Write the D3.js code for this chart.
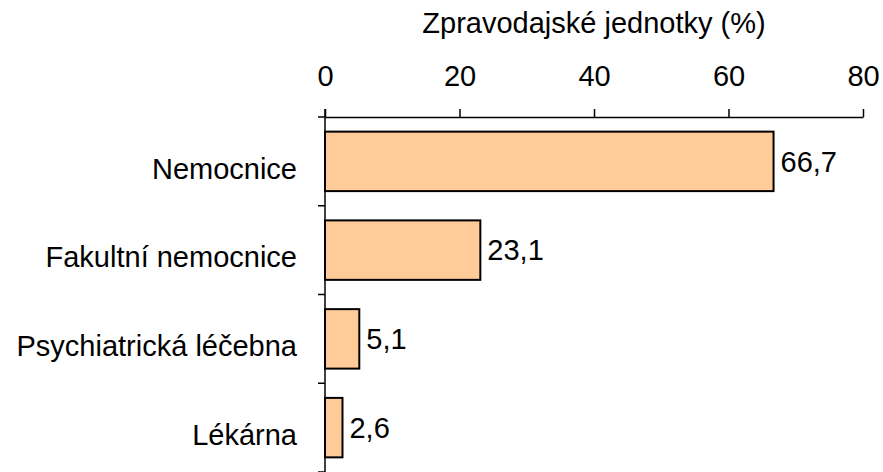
<!DOCTYPE html>
<html>
<head>
<meta charset="utf-8">
<script src="https://cdn.jsdelivr.net/npm/d3@7/dist/d3.min.js"></script>
<style>
  body { margin: 0; background: #fff; }
  text { font-family: "Liberation Sans", Arial, sans-serif; fill: #000; }
  .domain, .tick line { stroke: #000; stroke-width: 1.5px; }
</style>
</head>
<body>
<div id="chart"></div>
<script>
var categories = ['Nemocnice', 'Fakultní nemocnice', 'Psychiatrická léčebna', 'Lékárna'];
var values = [66.7, 23.1, 5.1, 2.6];
var value_labels = ['66,7', '23,1', '5,1', '2,6'];
var x_ticks = [0, 20, 40, 60, 80];
var axis_title = 'Zpravodajské jednotky (%)';

var width = 883, height = 472;
var font_size = 29;

var svg = d3.select('#chart')
    .append('svg')
    .attr('width', width)
    .attr('height', height);

let x = d3.scaleLinear().domain([0, 80]).range([325, 863]);
let y = d3.scaleBand().domain(categories).range([117, 472])
    .paddingInner(0.33).paddingOuter(0.165);

// top axis
let x_axis = svg.append('g')
    .attr('transform', 'translate(0,117)')
    .call(d3.axisTop(x).tickValues(x_ticks).tickSize(8).tickPadding(23).tickSizeOuter(0));
x_axis.selectAll('text')
    .style('font-size', font_size + 'px');

svg.append('text')
    .attr('x', (x.range()[0] + x.range()[1]) / 2)
    .attr('y', 33)
    .attr('text-anchor', 'middle')
    .style('font-size', font_size + 'px')
    .text(axis_title);

// bars
svg.selectAll('.bar')
    .data(values)
    .enter().append('rect')
    .attr('class', 'bar')
    .attr('x', x(0))
    .attr('y', function(d, i) { return y(categories[i]); })
    .attr('width', function(d) { return x(d) - x(0); })
    .attr('height', y.bandwidth())
    .style('fill', '#ffcc99')
    .style('stroke', '#000')
    .style('stroke-width', '2px');

// left axis line with ticks at band boundaries
svg.append('line')
    .attr('x1', x(0)).attr('x2', x(0))
    .attr('y1', 109).attr('y2', y.range()[1])
    .style('stroke', '#000').style('stroke-width', '1.5px');

let boundaries = d3.range(categories.length + 1).map(function(i) {
    return y.range()[0] + i * y.step();
});
svg.selectAll('.ytick')
    .data(boundaries)
    .enter().append('line')
    .attr('class', 'ytick')
    .attr('x1', x(0) - 7).attr('x2', x(0))
    .attr('y1', function(d) { return d; })
    .attr('y2', function(d) { return d; })
    .style('stroke', '#000').style('stroke-width', '1.5px');

// category labels
svg.selectAll('.cat')
    .data(categories)
    .enter().append('text')
    .attr('class', 'cat')
    .attr('x', 297)
    .attr('y', function(d) { return y(d) + y.bandwidth() / 2 + 7; })
    .attr('dy', '0.35em')
    .attr('text-anchor', 'end')
    .style('font-size', font_size + 'px')
    .text(function(d) { return d; });

// value labels
svg.selectAll('.val')
    .data(values)
    .enter().append('text')
    .attr('class', 'val')
    .attr('x', function(d) { return x(d) + 7; })
    .attr('y', function(d, i) { return y(categories[i]) + y.bandwidth() / 2; })
    .attr('dy', '0.35em')
    .style('font-size', font_size + 'px')
    .text(function(d, i) { return value_labels[i]; });
</script>
</body>
</html>
